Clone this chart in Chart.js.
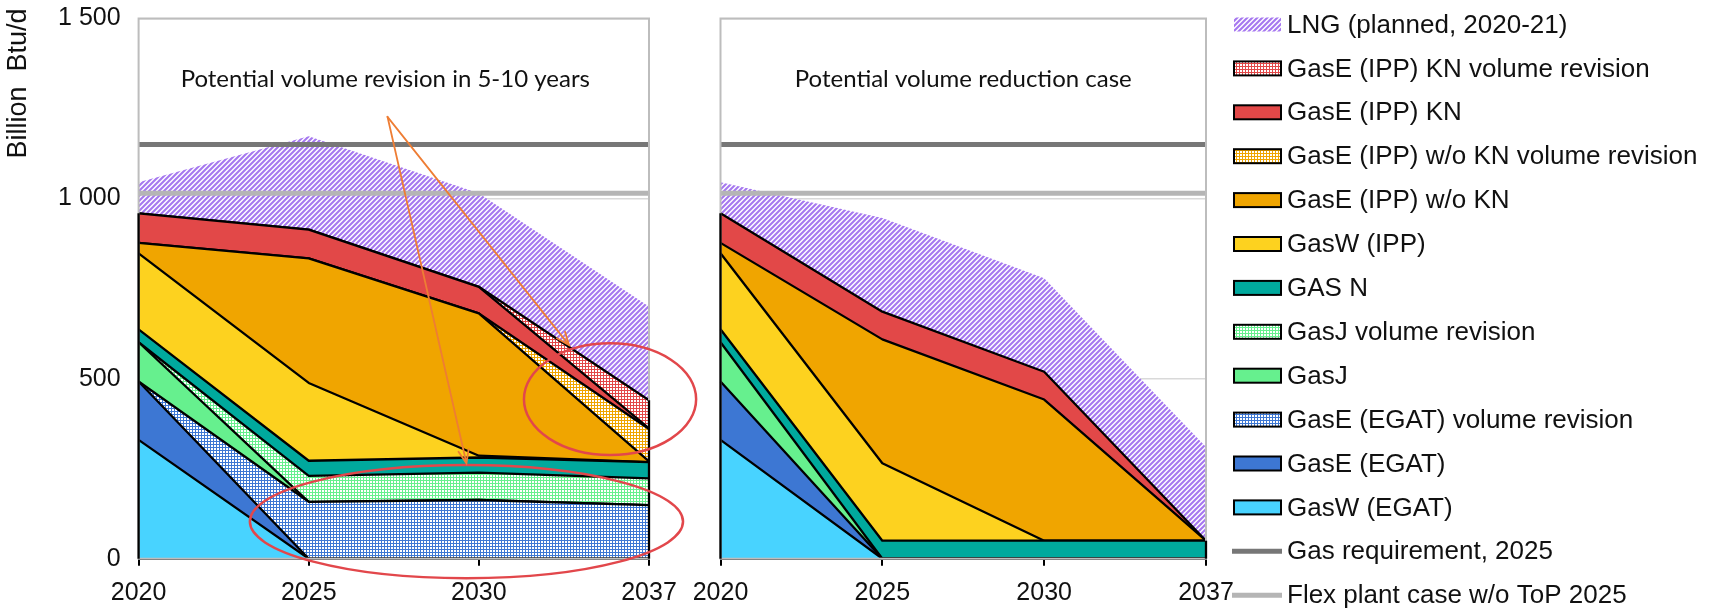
<!DOCTYPE html>
<html>
<head>
<meta charset="utf-8">
<title>Gas supply by source</title>
<script src="https://cdn.jsdelivr.net/npm/chart.js@4.4.1/dist/chart.umd.min.js"></script>
<style>
  html, body { margin: 0; padding: 0; background: #fff; overflow: hidden; }
  #wrap { position: relative; width: 1711px; height: 611px; }
  #wrap canvas { position: absolute; left: 0; top: 0; }
</style>
</head>
<body>
<div id="wrap">
  <canvas id="revision" width="1711" height="611"></canvas>
  <canvas id="reduction" width="1711" height="611"></canvas>
</div>
<script>
// ---- data (Billion Btu/d) ----
const years = ['2020', '2025', '2030', '2037'];
const yTickLabels = ['0', '500', '1 000', '1 500'];

// Potential volume revision in 5-10 years
const gaswEgat       = [330, 0, 0, 0];
const gaseEgat       = [162, 0, 0, 0];
const gaseEgatRev    = [0, 158, 163, 149];
const gasj           = [109, 0, 0, 0];
const gasjRev        = [0, 72, 76, 74];
const gasN           = [36, 42, 42, 45];
const gaswIpp        = [211, 216, 5, 0];
const gaseIppWoKn    = [29, 346, 395, 2];
const gaseIppWoKnRev = [0, 0, 0, 90];
const gaseIppKn      = [82, 80, 74, 2];
const gaseIppKnRev   = [0, 0, 0, 78];
const lng            = [86, 259, 260, 260];

// Potential volume reduction case
const gaswEgatR    = [330, 0, 0, 0];
const gaseEgatR    = [162, 0, 0, 0];
const gasjR        = [109, 0, 0, 0];
const gasNR        = [36, 50, 50, 50];
const gaswIppR     = [211, 215, 0, 0];
const gaseIppWoKnR = [29, 344, 392, 0];
const gaseIppKnR   = [82, 77, 77, 0];
const lngR         = [86, 260, 260, 260];

// Reference levels
const gasRequirement2025 = [1150, 1150, 1150, 1150];
const flexPlant2025      = [1015, 1015, 1015, 1015];

// ---- styling ----
const COL = {
  gaswEgat: '#48d3ff', gaseEgat: '#3d77d3', gasj: '#66f08e', gasN: '#00a99d',
  gaswIpp: '#fdd21f', gaseIppWoKn: '#f0a500', gaseIppKn: '#e24848', lng: '#a677f0',
  req: '#777777', flex: '#b5b5b5'
};
const SANS = '"Liberation Sans", Arial, sans-serif';
const CAPTION = 'Lato, "Open Sans", sans-serif';

function tileCanvas(size) {
  const c = document.createElement('canvas');
  c.width = c.height = size;
  return c;
}
const patternHost = document.createElement('canvas').getContext('2d');

// fine diagonal hatch on white
function hatch(color) {
  const s = 5, c = tileCanvas(s), g = c.getContext('2d');
  g.fillStyle = '#fff'; g.fillRect(0, 0, s, s);
  g.strokeStyle = color; g.lineWidth = 2.1;
  g.beginPath();
  g.moveTo(0, s); g.lineTo(s, 0);
  g.moveTo(-1, 1); g.lineTo(1, -1);
  g.moveTo(s - 1, s + 1); g.lineTo(s + 1, s - 1);
  g.stroke();
  return patternHost.createPattern(c, 'repeat');
}
// small white dots on a coloured grid
function dots(color) {
  const s = 3, c = tileCanvas(s), g = c.getContext('2d');
  g.fillStyle = color; g.fillRect(0, 0, s, s);
  g.fillStyle = '#fff'; g.fillRect(1, 1, 2, 2);
  return patternHost.createPattern(c, 'repeat');
}

function area(label, data, fill, bordered = true) {
  return {
    label, data, stack: 'supply', kind: 'area',
    backgroundColor: fill, borderColor: '#000', borderWidth: bordered ? 2.3 : 0,
    pointRadius: 0, pointHoverRadius: 0, tension: 0, borderJoinStyle: 'round'
  };
}
function level(label, data, color, stack) {
  return {
    label, data, stack, kind: 'line', order: -1,
    borderColor: color, backgroundColor: color, borderWidth: 5, fill: false,
    pointRadius: 0, pointHoverRadius: 0, tension: 0, borderCapStyle: 'butt'
  };
}
function chain(list) {
  list.forEach((d, i) => { if (d.kind === 'area') d.fill = i === 0 ? 'origin' : '-1'; });
  return list;
}

const revisionSets = chain([
  area('GasW (EGAT)', gaswEgat, COL.gaswEgat),
  area('GasE (EGAT)', gaseEgat, COL.gaseEgat),
  area('GasE (EGAT) volume revision', gaseEgatRev, dots(COL.gaseEgat)),
  area('GasJ', gasj, COL.gasj),
  area('GasJ volume revision', gasjRev, dots(COL.gasj)),
  area('GAS N', gasN, COL.gasN),
  area('GasW (IPP)', gaswIpp, COL.gaswIpp),
  area('GasE (IPP) w/o KN', gaseIppWoKn, COL.gaseIppWoKn),
  area('GasE (IPP) w/o KN volume revision', gaseIppWoKnRev, dots(COL.gaseIppWoKn)),
  area('GasE (IPP) KN', gaseIppKn, COL.gaseIppKn),
  area('GasE (IPP) KN volume revision', gaseIppKnRev, dots(COL.gaseIppKn)),
  area('LNG (planned, 2020-21)', lng, hatch(COL.lng), false),
  level('Gas requirement, 2025', gasRequirement2025, COL.req, 'req'),
  level('Flex plant case w/o ToP 2025', flexPlant2025, COL.flex, 'flex')
]);

const reductionSets = chain([
  area('GasW (EGAT)', gaswEgatR, COL.gaswEgat),
  area('GasE (EGAT)', gaseEgatR, COL.gaseEgat),
  area('GasJ', gasjR, COL.gasj),
  area('GAS N', gasNR, COL.gasN),
  area('GasW (IPP)', gaswIppR, COL.gaswIpp),
  area('GasE (IPP) w/o KN', gaseIppWoKnR, COL.gaseIppWoKn),
  area('GasE (IPP) KN', gaseIppKnR, COL.gaseIppKn),
  area('LNG (planned, 2020-21)', lngR, hatch(COL.lng), false),
  level('Gas requirement, 2025', gasRequirement2025, COL.req, 'req'),
  level('Flex plant case w/o ToP 2025', flexPlant2025, COL.flex, 'flex')
]);

// ---- plugins ----
// plot frame plus the black outer edges of the stacked areas
const panelFrame = {
  id: 'panelFrame',
  afterDatasetsDraw(chart) {
    const { ctx, chartArea: a, scales: { x, y } } = chart;
    ctx.save();
    ctx.strokeStyle = '#bdbdbd'; ctx.lineWidth = 2;
    ctx.strokeRect(a.left, a.top, a.right - a.left, a.bottom - a.top);
    ctx.strokeStyle = '#000'; ctx.lineWidth = 2.3;
    [0, years.length - 1].forEach(i => {
      let top = y.getPixelForValue(0);
      chart.data.datasets.forEach((d, k) => {
        if (d.kind === 'area' && d.borderWidth > 0) {
          const pt = chart.getDatasetMeta(k).data[i];
          if (pt) top = Math.min(top, pt.y);
        }
      });
      const px = x.getPixelForValue(i);
      ctx.beginPath(); ctx.moveTo(px, y.getPixelForValue(0)); ctx.lineTo(px, top); ctx.stroke();
    });
    ctx.restore();
  }
};

function caption(chart, text, idx, value) {
  const { ctx, scales: { x, y } } = chart;
  ctx.save();
  ctx.font = '24px ' + CAPTION;
  ctx.fillStyle = '#111';
  ctx.textAlign = 'center'; ctx.textBaseline = 'middle';
  ctx.fillText(text, x.getPixelForValue(idx), y.getPixelForValue(value));
  ctx.restore();
}

// call-outs of the revision panel, in (category index, value) space
const noteFrom = [1.463, 1227];
const noteTo = [[1.927, 265], [2.53, 593]];
const noteRings = [[1.927, 103, 1.273, 157], [2.771, 443, 0.506, 155]];

const revisionNotes = {
  id: 'revisionNotes',
  afterDraw(chart) {
    const { ctx, scales: { x, y } } = chart;
    caption(chart, 'Potential volume revision in 5-10 years', 1.45, 1330);

    ctx.save();
    ctx.strokeStyle = '#e2474b'; ctx.lineWidth = 2.5;
    noteRings.forEach(([ci, cv, ri, rv]) => {
      const cx = x.getPixelForValue(ci), cy = y.getPixelForValue(cv);
      const rx = x.getPixelForValue(ci + ri) - cx, ry = cy - y.getPixelForValue(cv + rv);
      ctx.beginPath(); ctx.ellipse(cx, cy, rx, ry, 0, 0, Math.PI * 2); ctx.stroke();
    });

    ctx.strokeStyle = '#ee7d34'; ctx.lineWidth = 1.8; ctx.lineCap = 'round';
    const ox = x.getPixelForValue(noteFrom[0]), oy = y.getPixelForValue(noteFrom[1]);
    noteTo.forEach(([ti, tv]) => {
      const tx = x.getPixelForValue(ti), ty = y.getPixelForValue(tv);
      const ang = Math.atan2(ty - oy, tx - ox), head = 14, spread = 0.38;
      ctx.beginPath();
      ctx.moveTo(ox, oy); ctx.lineTo(tx, ty);
      ctx.moveTo(tx - head * Math.cos(ang - spread), ty - head * Math.sin(ang - spread));
      ctx.lineTo(tx, ty);
      ctx.lineTo(tx - head * Math.cos(ang + spread), ty - head * Math.sin(ang + spread));
      ctx.stroke();
    });
    ctx.restore();

    // value axis title, set at the top of the axis
    const a = chart.chartArea;
    ctx.save();
    ctx.translate(19, a.top + 65);
    ctx.rotate(-Math.PI / 2);
    ctx.font = '27px ' + SANS; ctx.fillStyle = '#111';
    ctx.textAlign = 'center'; ctx.textBaseline = 'middle';
    ctx.fillText('Billion  Btu/d', 0, 0);
    ctx.restore();
  }
};

const reductionNotes = {
  id: 'reductionNotes',
  afterDraw(chart) {
    caption(chart, 'Potential volume reduction case', 1.5, 1330);
  }
};

// shared legend, listed top of the stack first
const sharedLegend = {
  id: 'sharedLegend',
  afterDraw(chart) {
    const ctx = chart.ctx;
    const areas = revisionSets.filter(d => d.kind === 'area').reverse();
    const lines = revisionSets.filter(d => d.kind === 'line');
    const items = areas.concat(lines);
    const x0 = 1234, boxW = 47, boxH = 14, textX = 1287, rowTop = 24.5, rowStep = 43.9;
    ctx.save();
    ctx.font = '26px ' + SANS;
    ctx.textBaseline = 'middle'; ctx.textAlign = 'left';
    items.forEach((d, i) => {
      const cy = rowTop + i * rowStep;
      if (d.kind === 'line') {
        ctx.strokeStyle = d.borderColor; ctx.lineWidth = 5; ctx.lineCap = 'butt';
        ctx.beginPath(); ctx.moveTo(x0 - 2, cy); ctx.lineTo(x0 + boxW + 1, cy); ctx.stroke();
      } else {
        ctx.fillStyle = d.backgroundColor;
        ctx.fillRect(x0, cy - boxH / 2, boxW, boxH);
        if (d.borderWidth > 0) {
          ctx.strokeStyle = '#000'; ctx.lineWidth = 2;
          ctx.strokeRect(x0, cy - boxH / 2, boxW, boxH);
        }
      }
      ctx.fillStyle = '#111';
      ctx.fillText(d.label, textX, cy + 1);
    });
    ctx.restore();
  }
};

// ---- charts ----
function options(plotLeft, plotRight, showValues) {
  return {
    responsive: false,
    animation: false,
    events: [],
    layout: { padding: { top: 18.5, right: 1711 - plotRight, bottom: 0, left: 0 } },
    plugins: { legend: { display: false }, tooltip: { enabled: false } },
    scales: {
      x: {
        type: 'category', offset: false, z: 1,
        grid: { display: true, drawOnChartArea: false, drawTicks: true, tickLength: 7, color: '#000', lineWidth: 2 },
        border: { display: true, color: '#000', width: 2 },
        ticks: { color: '#111', font: { family: SANS, size: 25 }, padding: 12, maxRotation: 0, autoSkip: false },
        afterFit(s) { s.height = 52.3; s.paddingLeft = 0; s.paddingRight = 0; }
      },
      y: {
        stacked: true, min: 0, max: 1500,
        grid: { color: '#d9d9d9', lineWidth: 1.5, drawTicks: false },
        border: { display: false },
        ticks: {
          display: showValues, stepSize: 500, padding: 18, color: '#111',
          font: { family: SANS, size: 25 },
          callback: (v, i) => yTickLabels[i]
        },
        afterFit(s) { s.width = plotLeft; s.paddingTop = 0; s.paddingBottom = 0; }
      }
    }
  };
}

function build() {
  new Chart(document.getElementById('revision'), {
    type: 'line',
    data: { labels: years, datasets: revisionSets },
    options: options(138.6, 649, true),
    plugins: [panelFrame, revisionNotes]
  });
  new Chart(document.getElementById('reduction'), {
    type: 'line',
    data: { labels: years, datasets: reductionSets },
    options: options(720.5, 1206, false),
    plugins: [panelFrame, reductionNotes, sharedLegend]
  });
}

if (document.fonts && document.fonts.load) {
  Promise.all([
    document.fonts.load('24px Lato'),
    document.fonts.load('25px "Liberation Sans"')
  ]).then(build, build);
} else {
  build();
}
</script>
</body>
</html>
